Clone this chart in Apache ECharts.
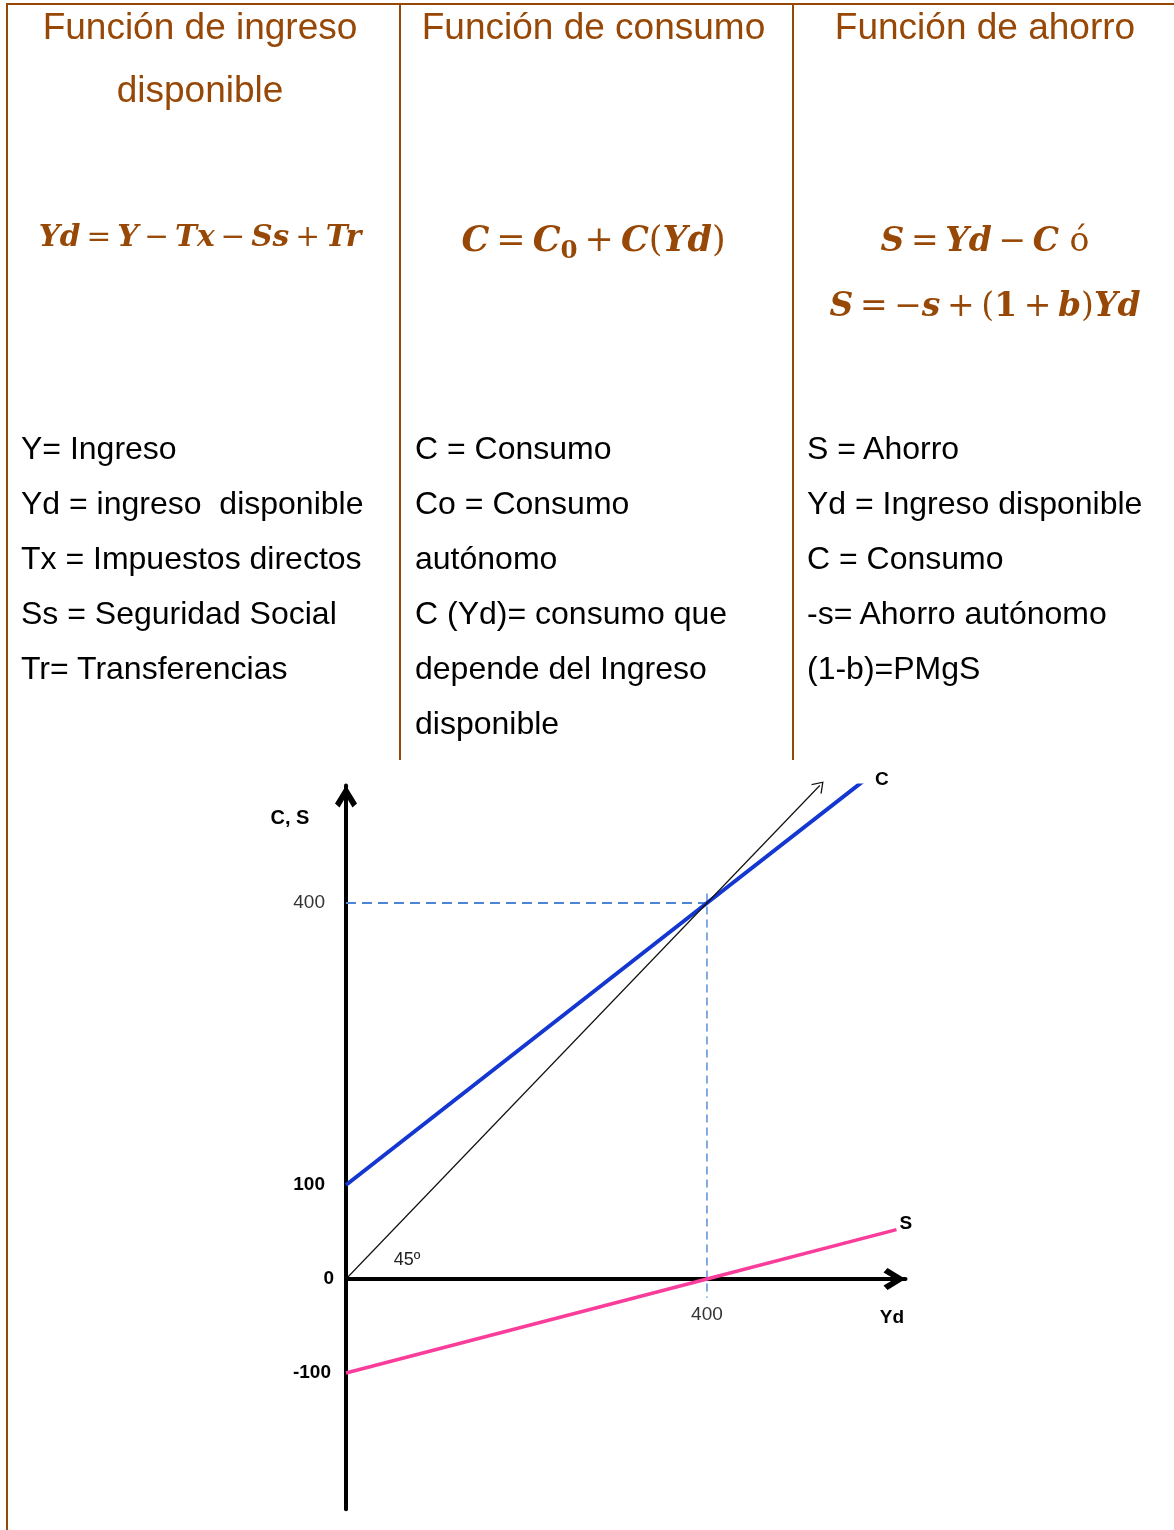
<!DOCTYPE html>
<html lang="es">
<head>
<meta charset="utf-8">
<title>Funciones de ingreso disponible, consumo y ahorro</title>
<script src="https://cdn.jsdelivr.net/npm/echarts@6.0.0/dist/echarts.min.js"></script>
<style>
  html, body { margin: 0; padding: 0; background: #fff; }
  body { width: 1174px; height: 1530px; position: relative; overflow: hidden; font-family: 'Liberation Sans', Arial, sans-serif; }
  #chart { position: absolute; left: 0; top: 0; width: 1174px; height: 1530px; }
  .rule { position: absolute; background: #974806; }
  .head { position: absolute; color: #974806; font-size: 37px; line-height: 63px; text-align: center; white-space: nowrap; }
  .formula { position: absolute; color: #974806; font-family: 'DejaVu Serif', serif; text-align: center; white-space: nowrap; }
  .formula i { font-style: italic; font-weight: bold; }
  .formula b { font-weight: bold; }
  .formula .op { margin: 0 .2em; }
  .formula .sub { font-weight: bold; font-size: .7em; vertical-align: -.3em; line-height: 0; }
  .text { position: absolute; color: #000; font-size: 32px; line-height: 55px; white-space: pre; }
</style>
</head>
<body>
<div id="chart"></div>

<!-- tabla -->
<div class="rule" style="left:6px;top:3px;width:1168px;height:2px"></div>
<div class="rule" style="left:6px;top:3px;width:2px;height:1527px"></div>
<div class="rule" style="left:399px;top:3px;width:2px;height:757px"></div>
<div class="rule" style="left:792px;top:3px;width:2px;height:757px"></div>

<div class="head" style="left:8px;width:384px;top:-5px">Función de ingreso<br>disponible</div>
<div class="head" style="left:401px;width:385px;top:-5px">Función de consumo</div>
<div class="head" style="left:794px;width:382px;top:-5px">Función de ahorro</div>

<div class="formula" style="left:8px;width:384px;top:216px;font-size:29.6px;line-height:40px"><i>Yd</i><span class="op">=</span><i>Y</i><span class="op">−</span><i>Tx</i><span class="op">−</span><i>Ss</i><span class="op">+</span><i>Tr</i></div>
<div class="formula" style="left:401px;width:385px;top:214px;font-size:35px;line-height:50px"><i>C</i><span class="op">=</span><i>C</i><span class="sub">0</span><span class="op">+</span><i>C</i>(<i>Yd</i>)</div>
<div class="formula" style="left:794px;width:382px;top:207px;font-size:33px;line-height:65px"><i>S</i><span class="op">=</span><i>Yd</i><span class="op">−</span><i>C</i> ó<br><i>S</i><span class="op">=</span>−<i>s</i><span class="op">+</span>(<b>1</b><span class="op">+</span><i>b</i>)<i>Yd</i></div>

<div class="text" style="left:21px;top:421px">Y= Ingreso
Yd = ingreso  disponible
Tx = Impuestos directos
Ss = Seguridad Social
Tr= Transferencias</div>
<div class="text" style="left:415px;top:421px">C = Consumo
Co = Consumo
autónomo
C (Yd)= consumo que
depende del Ingreso
disponible</div>
<div class="text" style="left:807px;top:421px">S = Ahorro
Yd = Ingreso disponible
C = Consumo
-s= Ahorro autónomo
(1-b)=PMgS</div>

<script>
// datos
const ydC = [0, 400, 575];
const consumo = [100, 400, 531];
const ydS = [0, 400, 610];
const ahorro = [-100, 0, 52.5];
const yd45 = [0, 525];
const recta45 = [0, 525];
const equilibrio = [400, 400];
const yTicks = [-100, 0, 100, 400];
const xTicks = [400];

const yMin = -245;
const yMax = 525;
const pxPerY = 0.94;

const arrowThick = 'path://M0,0 L11,18 L6.5,22 L0,11 L-6.5,22 L-11,18 Z';
const arrowThin = 'path://M0,0 L8,10 L7,11 L0,2.2 L-7,11 L-8,10 Z';
const dashColor = '#4E86D6';
const labelFont = 19;

const chart = echarts.init(document.getElementById('chart'));

function pts(xs, ys) {
  return xs.map((x, i) => [x, ys[i]]);
}

const axisLineStyle = {
  onZero: false,
  lineStyle: { color: '#000', width: 4 },
  symbol: ['none', arrowThick],
  symbolSize: [22, 22],
  symbolOffset: [0, -11]
};

const option = {
  animation: false,
  textStyle: { fontFamily: 'Liberation Sans' },
  grid: {
    left: 346,
    top: 1279 - yMax * pxPerY,
    width: 559.5,
    height: (yMax - yMin) * pxPerY,
    containLabel: false,
    outerBoundsMode: 'none'
  },
  xAxis: {
    type: 'value',
    min: 0,
    max: 620,
    position: 'bottom',
    // el eje horizontal va en y = 0
    offset: yMin * pxPerY,
    splitLine: { show: false },
    axisTick: { show: false },
    axisLine: axisLineStyle,
    axisLabel: {
      customValues: xTicks,
      margin: 26,
      fontSize: labelFont,
      color: '#333'
    }
  },
  yAxis: {
    type: 'value',
    min: yMin,
    max: yMax,
    splitLine: { show: false },
    axisTick: { show: false },
    axisLine: axisLineStyle,
    axisLabel: {
      customValues: yTicks,
      margin: 12,
      formatter: (v) => {
        if (v === 400) return '{n|' + v + '}'
        if (v === 100) return '{b|' + v + '}'
        if (v === 0) return '{z|' + v + '}'
        return '{m|' + v + '}'
      },
      rich: {
        n: { fontSize: labelFont, color: '#333', padding: [0, 9, 0, 0] },
        b: { fontSize: labelFont, color: '#000', fontWeight: 'bold', padding: [0, 9, 0, 0] },
        z: { fontSize: labelFont, color: '#000', fontWeight: 'bold' },
        m: { fontSize: labelFont, color: '#000', fontWeight: 'bold', padding: [0, 3, 0, 0] }
      }
    }
  },
  series: [
    {
      name: 'guía horizontal',
      type: 'line',
      symbol: 'none',
      silent: true,
      data: [[0, equilibrio[1]], [equilibrio[0] + 1, equilibrio[1]]],
      lineStyle: { color: dashColor, width: 1.8, type: [10, 6] }
    },
    {
      name: 'guía vertical',
      type: 'line',
      symbol: 'none',
      silent: true,
      data: [[equilibrio[0], equilibrio[1] + 10], [equilibrio[0], -20]],
      lineStyle: { color: dashColor, width: 1.4, type: [8, 5] }
    },
    {
      name: '45º',
      type: 'line',
      symbol: 'none',
      silent: true,
      data: pts(yd45, recta45),
      lineStyle: { opacity: 0 },
      markLine: {
        silent: true,
        symbol: ['none', arrowThin],
        symbolSize: [14, 11],
        label: { show: false },
        lineStyle: { color: '#111', width: 1.2, type: 'solid' },
        data: [[{ coord: [yd45[0], recta45[0]] }, { coord: [yd45[1], recta45[1]] }]]
      }
    },
    {
      name: 'C',
      type: 'line',
      symbol: 'none',
      data: pts(ydC, consumo),
      lineStyle: { color: '#1437D1', width: 4 },
      endLabel: {
        show: true,
        formatter: 'C',
        fontSize: labelFont,
        fontWeight: 'bold',
        color: '#000',
        distance: 10
      }
    },
    {
      name: 'S',
      type: 'line',
      symbol: 'none',
      data: pts(ydS, ahorro),
      lineStyle: { color: '#FA3C9A', width: 3.4 },
      endLabel: {
        show: true,
        formatter: 'S',
        fontSize: labelFont,
        fontWeight: 'bold',
        color: '#000',
        distance: 3,
        offset: [0, -6]
      }
    }
  ],
  graphic: [
    { type: 'text', x: 290, y: 818, style: { text: 'C, S', font: 'bold 20px "Liberation Sans"', fill: '#000', align: 'center', verticalAlign: 'middle' } },
    { type: 'text', x: 892, y: 1318, style: { text: 'Yd', font: 'bold 19px "Liberation Sans"', fill: '#000', align: 'center', verticalAlign: 'middle' } },
    { type: 'text', x: 407, y: 1260, style: { text: '45º', font: '18px "Liberation Sans"', fill: '#222', align: 'center', verticalAlign: 'middle' } }
  ]
};

chart.setOption(option);
</script>
</body>
</html>
